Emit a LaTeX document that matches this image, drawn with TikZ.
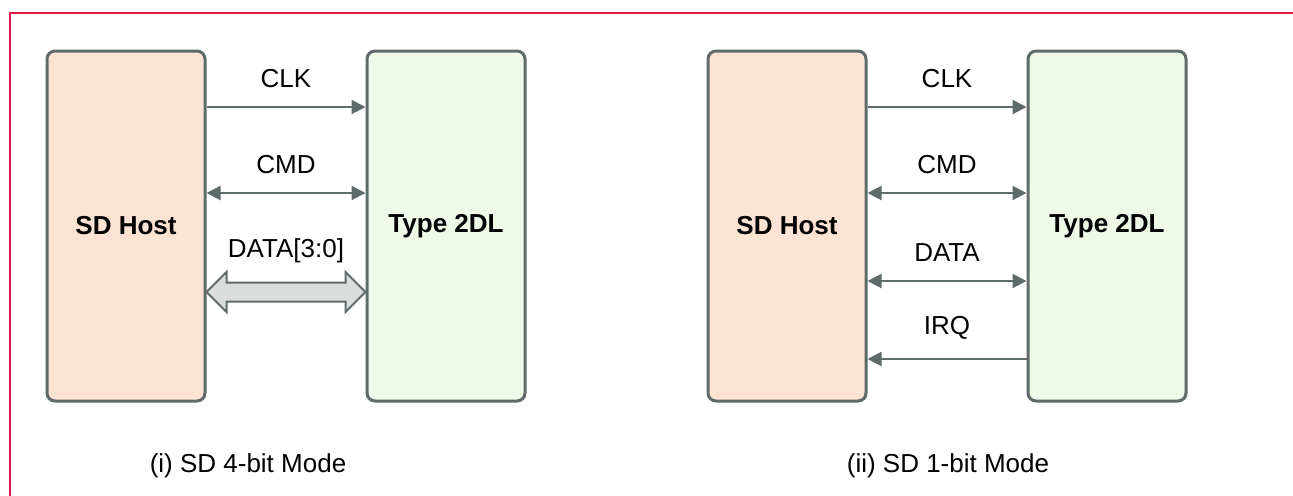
\documentclass[tikz,border=0pt]{standalone}
\usepackage{fontspec}
\setmainfont{Liberation Sans}
\usetikzlibrary{arrows.meta,calc}
\definecolor{edgegray}{HTML}{5F6A6A}
\definecolor{hostfill}{HTML}{FDE3D3}
\definecolor{devfill}{HTML}{EEF9E7}
\definecolor{busfill}{HTML}{DCDDDD}
\definecolor{framered}{HTML}{E8174A}
\tikzset{
	block/.style={draw=edgegray,line width=1.5pt,rounded corners=4pt,minimum width=79pt,minimum height=175pt,font=\fontsize{13}{15.6}\selectfont\bfseries},
	hostbox/.style={block,fill=hostfill},
	devbox/.style={block,fill=devfill},
	sig/.style={draw=edgegray,line width=1pt},
}
\begin{document}
\begin{tikzpicture}[>={Triangle[length=7pt,width=7pt]},x=0.5pt,y=-0.5pt,font=\fontsize{13}{15.6}\selectfont]
		\useasboundingbox (0,0) rectangle (1293,495);
		\clip (0,0) rectangle (1293,495);
		\draw[framered,line width=0.7pt] (10,13) rectangle (1320,520);
		
		% (i) 4-bit
		\node[hostbox] (hostA) at (126,226) {SD Host};
		\node[devbox] (devA) at (446,226) {Type 2DL};
		\draw[sig,->] ([yshift=59.5pt]hostA.east)--([yshift=59.5pt]devA.west) node[midway,above=6pt] (clkA) {CLK};
		\draw[sig,<->] ([yshift=16.5pt]hostA.east)--([yshift=16.5pt]devA.west) node[midway,above=6pt] (cmdA) {CMD};
		\coordinate (busL) at ([yshift=-33pt]hostA.east);
		\coordinate (busR) at ([yshift=-33pt]devA.west);
		\draw[draw=edgegray,fill=busfill,line width=1pt,line join=miter]
		(busL)--++(20,-20)--++(0,10.5)--($(busR)+(-20,-9.5)$)--++(0,-10.5)--(busR)
		--++(-20,20)--++(0,-10.5)--($(busL)+(20,9.5)$)--++(0,10.5)--cycle;
		\node[above=11pt] (dataA) at ($(busL)!0.5!(busR)$) {DATA[3:0]};
		\node (capA) at (248,466) {(i) SD 4-bit Mode};
		
		% (ii) 1-bit
		\node[hostbox] (hostB) at (787,226) {SD Host};
		\node[devbox] (devB) at (1107,226) {Type 2DL};
		\draw[sig,->] ([yshift=59.5pt]hostB.east)--([yshift=59.5pt]devB.west) node[midway,above=6pt] (clkB) {CLK};
		\draw[sig,<->] ([yshift=16.5pt]hostB.east)--([yshift=16.5pt]devB.west) node[midway,above=6pt] (cmdB) {CMD};
		\draw[sig,<->] ([yshift=-27.5pt]hostB.east)--([yshift=-27.5pt]devB.west) node[midway,above=6pt] (dataB) {DATA};
		\draw[sig,<-] ([yshift=-66.5pt]hostB.east)--([yshift=-66.5pt]devB.west) node[midway,above=6pt] (irqB) {IRQ};
		\node (capB) at (948,466) {(ii) SD 1-bit Mode};
\end{tikzpicture}
\end{document}
